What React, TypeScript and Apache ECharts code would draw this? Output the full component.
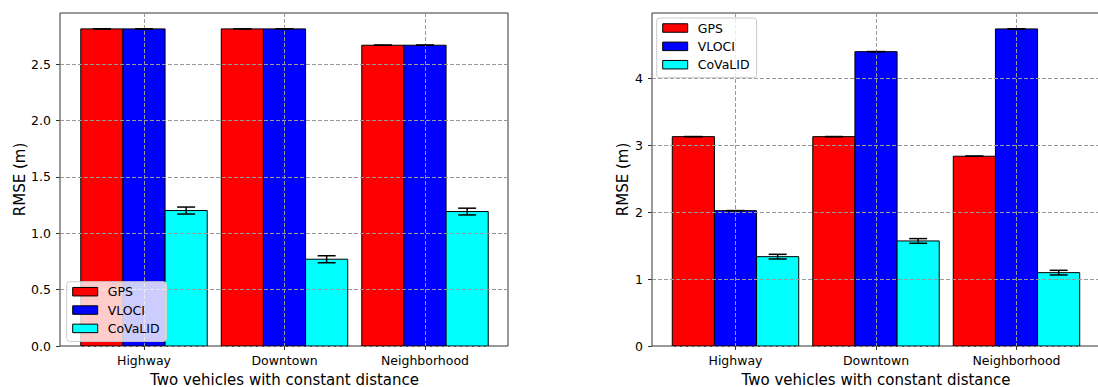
import React, { useEffect, useRef } from "react";
import * as echarts from "echarts";

// Scenario categories shared by both panels
const categories = ["Highway", "Downtown", "Neighborhood"];
const seriesNames = ["GPS", "VLOCI", "CoVaLID"];
const seriesColors = ["#ff0000", "#0000ff", "#00ffff"];

// Left panel: RMSE (m)
const leftGps = [2.814, 2.814, 2.669];
const leftVloci = [2.814, 2.814, 2.669];
const leftCovalid = [1.202, 0.77, 1.193];
const leftGpsErr = [0, 0, 0];
const leftVlociErr = [0, 0, 0];
const leftCovalidErr = [0.031, 0.031, 0.03];

// Right panel: RMSE (m)
const rightGps = [3.131, 3.131, 2.838];
const rightVloci = [2.024, 4.402, 4.742];
const rightCovalid = [1.336, 1.571, 1.097];
const rightGpsErr = [0, 0, 0];
const rightVlociErr = [0, 0, 0];
const rightCovalidErr = [0.035, 0.035, 0.035];

// Axis ticks
const leftTicks = [0, 0.5, 1, 1.5, 2, 2.5];
const rightTicks = [0, 1, 2, 3, 4];
const leftMax = 2.955;
const rightMax = 4.98;

const FONT = "DejaVu Sans";
const BAR_FRAC = 0.3;
const CAP_HALF = 9;
const SPINE = "#333";
const GRID_LINE = { color: "#999", type: [4, 2] as number[], width: 1 };

function barSeries(name: string, color: string, values: number[], slot: number, axis: number) {
  return {
    type: "custom",
    name,
    xAxisIndex: axis,
    yAxisIndex: axis,
    z: 2,
    clip: false,
    itemStyle: { color, borderColor: "#000", borderWidth: 1 },
    data: categories.map((c, i) => [c, values[i]]),
    renderItem: (_params: any, api: any) => {
      const idx = api.value(0);
      const v = api.value(1);
      const band = api.coord([1, 0])[0] - api.coord([0, 0])[0];
      const w = band * BAR_FRAC;
      const base = api.coord([idx, 0]);
      const top = api.coord([idx, v]);
      const cx = base[0] + (slot - 1) * w;
      return {
        type: "rect",
        shape: { x: cx - w / 2, y: top[1], width: w, height: base[1] - top[1] },
        style: { fill: color, stroke: "#000", lineWidth: 1 },
      };
    },
  };
}

function errorSeries(values: number[], errs: number[], slot: number, axis: number) {
  return {
    type: "custom",
    xAxisIndex: axis,
    yAxisIndex: axis,
    z: 5,
    clip: false,
    silent: true,
    data: categories.map((c, i) => [c, values[i], errs[i]]),
    renderItem: (_params: any, api: any) => {
      const idx = api.value(0);
      const v = api.value(1);
      const e = api.value(2);
      const band = api.coord([1, 0])[0] - api.coord([0, 0])[0];
      const w = band * BAR_FRAC;
      const lo = api.coord([idx, v - e]);
      const hi = api.coord([idx, v + e]);
      const cx = lo[0] + (slot - 1) * w;
      const style = { stroke: "#000", lineWidth: 1.5 };
      return {
        type: "group",
        children: [
          { type: "line", shape: { x1: cx, y1: lo[1], x2: cx, y2: hi[1] }, style },
          { type: "line", shape: { x1: cx - CAP_HALF, y1: lo[1], x2: cx + CAP_HALF, y2: lo[1] }, style },
          { type: "line", shape: { x1: cx - CAP_HALF, y1: hi[1], x2: cx + CAP_HALF, y2: hi[1] }, style },
        ],
      };
    },
  };
}

function legendAt(left: number, top: number) {
  return {
    orient: "vertical",
    left,
    top,
    z: 6,
    icon: "rect",
    itemWidth: 25,
    itemHeight: 8.5,
    itemGap: 4.35,
    padding: [3, 7, 6, 5.5],
    backgroundColor: "rgba(255,255,255,0.8)",
    borderColor: "#cccccc",
    borderWidth: 1,
    borderRadius: 3,
    itemStyle: { borderColor: "#000", borderWidth: 1 },
    textStyle: { fontFamily: FONT, fontSize: 12.5, lineHeight: 14, color: "#000", padding: [0, 0, 0, 5] },
    data: seriesNames,
  };
}

function valueAxis(grid: number, max: number, ticks: number[], decimals: number, nameGap: number) {
  return {
    type: "value",
    gridIndex: grid,
    min: 0,
    max,
    z: 3,
    name: "RMSE (m)",
    nameLocation: "middle",
    nameGap,
    nameTextStyle: { fontFamily: FONT, fontSize: 15, color: "#000" },
    axisLine: { show: false },
    axisTick: { show: true, length: 4, customValues: ticks, lineStyle: { color: SPINE, width: 1 } },
    axisLabel: {
      customValues: ticks,
      margin: 9,
      fontFamily: FONT,
      fontSize: 12.5,
      color: "#000",
      formatter: (v: number) => v.toFixed(decimals),
    },
    splitLine: { show: true, lineStyle: GRID_LINE },
  };
}

function categoryAxis(grid: number) {
  return {
    type: "category",
    gridIndex: grid,
    data: categories,
    boundaryGap: false,
    z: 3,
    name: "Two vehicles with constant distance",
    nameLocation: "middle",
    nameGap: 26,
    nameTextStyle: { fontFamily: FONT, fontSize: 15, color: "#000" },
    axisLine: { show: false },
    axisTick: { show: true, length: 4, lineStyle: { color: SPINE, width: 1 } },
    axisLabel: { margin: 8, fontFamily: FONT, fontSize: 12.5, color: "#000", interval: 0 },
    splitLine: { show: true, lineStyle: GRID_LINE },
  };
}

export default function App() {
  const ref = useRef<HTMLDivElement>(null);

  useEffect(() => {
    if (!ref.current) return;
    const chart = echarts.init(ref.current, undefined, { renderer: "svg" });
    const frame = { show: true, borderColor: SPINE, borderWidth: 1, backgroundColor: "#fff" };
    const fixed = { outerBoundsMode: "none", containLabel: false };

    chart.setOption({
      animation: false,
      backgroundColor: "#fff",
      textStyle: { fontFamily: FONT },
      grid: [
        { left: 60, top: 13, width: 448, height: 333, ...frame, ...fixed },
        { left: 144, top: 13, width: 281, height: 333, ...fixed },
        { left: 652, top: 13, width: 448, height: 333, ...frame, ...fixed },
        { left: 735.5, top: 13, width: 281, height: 333, ...fixed },
      ],
      xAxis: [
        { type: "value", gridIndex: 0, min: 0, max: 1, show: false },
        categoryAxis(1),
        { type: "value", gridIndex: 2, min: 0, max: 1, show: false },
        categoryAxis(3),
      ],
      yAxis: [
        valueAxis(0, leftMax, leftTicks, 1, 33),
        { type: "value", gridIndex: 1, min: 0, max: leftMax, show: false },
        valueAxis(2, rightMax, rightTicks, 0, 22),
        { type: "value", gridIndex: 3, min: 0, max: rightMax, show: false },
      ],
      legend: [legendAt(66.7, 281.7), legendAt(656.7, 18)],
      series: [
        barSeries(seriesNames[0], seriesColors[0], leftGps, 0, 1),
        barSeries(seriesNames[1], seriesColors[1], leftVloci, 1, 1),
        barSeries(seriesNames[2], seriesColors[2], leftCovalid, 2, 1),
        errorSeries(leftGps, leftGpsErr, 0, 1),
        errorSeries(leftVloci, leftVlociErr, 1, 1),
        errorSeries(leftCovalid, leftCovalidErr, 2, 1),
        barSeries(seriesNames[0], seriesColors[0], rightGps, 0, 3),
        barSeries(seriesNames[1], seriesColors[1], rightVloci, 1, 3),
        barSeries(seriesNames[2], seriesColors[2], rightCovalid, 2, 3),
        errorSeries(rightGps, rightGpsErr, 0, 3),
        errorSeries(rightVloci, rightVlociErr, 1, 3),
        errorSeries(rightCovalid, rightCovalidErr, 2, 3),
      ],
    });

    return () => chart.dispose();
  }, []);

  return (
    <div
      ref={ref}
      style={{ position: "fixed", left: 0, top: 0, width: 1098, height: 387, background: "#fff" }}
    />
  );
}
